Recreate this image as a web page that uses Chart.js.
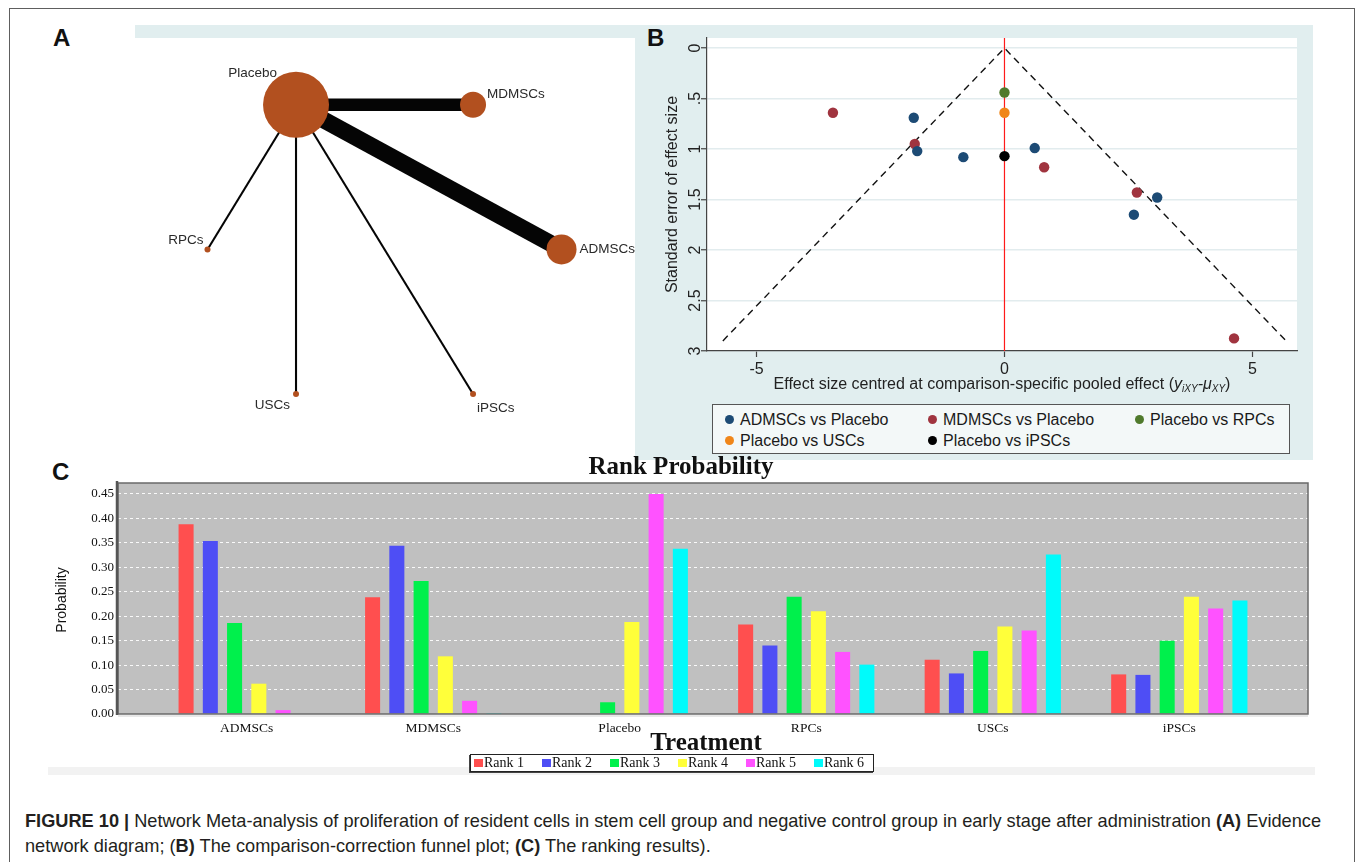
<!DOCTYPE html>
<html>
<head>
<meta charset="utf-8">
<title>Figure 10 – network meta-analysis</title>
<script src="https://cdn.jsdelivr.net/npm/chart.js@4.4.1/dist/chart.umd.min.js"></script>
<style>
  html, body { margin: 0; padding: 0; background: #fff; }
  body { width: 1357px; height: 862px; position: relative; overflow: hidden;
         font-family: "Liberation Sans", Arial, sans-serif; color: #231f20; }
  .abs { position: absolute; }
  #frame { left: 9px; top: 8px; width: 1344px; height: 900px; border: 1px solid #5e5e5e; }
  .letter { font-weight: bold; font-size: 24px; line-height: 24px; color: #111; }
  #bandTop { left: 135px; top: 25px; width: 1178px; height: 13px; background: #e1eeef; }
  #bgB { left: 635px; top: 25px; width: 678px; height: 435px; background: #e1eeef; }
  #bgA { left: 136px; top: 38px; width: 499px; height: 417px; background: #fff; }
  #legB { left: 712px; top: 404px; width: 578px; height: 50px; border: 1px solid #555;
          background: #f3f8f8; box-sizing: border-box; }
  .legItem { position: absolute; font-size: 16px; line-height: 18px; color: #1a1a1a; white-space: nowrap; }
  .legDot { display: inline-block; width: 9px; height: 9px; border-radius: 50%; margin-right: 6px;
            vertical-align: 1px; }
  #bandC { left: 48px; top: 767px; width: 1267px; height: 8px; background: #f2f2f2; }
  #legC { left: 470px; top: 754px; height: 16px; border: 1px solid #222; box-shadow: -1px 1px 0 #444;
          background: #fff; display: flex; font-family: "Liberation Serif", "Times New Roman", serif;
          font-size: 14px; line-height: 16px; color: #111; padding-right: 4px; }
  .legCItem { width: 68px; white-space: nowrap; padding-left: 3px; box-sizing: border-box; }
  .legCItem:last-child { width: 58px; }
  .legSq { display: inline-block; width: 9px; height: 8px; margin-right: 1px; vertical-align: 0px; }
  #caption { left: 25px; top: 809px; font-size: 18.2px; line-height: 25px; color: #231f20; white-space: nowrap; }
  canvas { position: absolute; }
</style>
</head>
<body>
<div id="frame" class="abs"></div>
<div id="bandTop" class="abs"></div>
<div id="bgB" class="abs"></div>
<div id="bgA" class="abs"></div>
<div id="bandC" class="abs"></div>

<div class="abs letter" style="left:53px;top:26px;">A</div>
<div class="abs letter" style="left:647px;top:26px;">B</div>
<div class="abs letter" style="left:52px;top:460px;">C</div>

<canvas id="netA" width="499" height="414" style="left:136px;top:38px;"></canvas>
<canvas id="funnelB" width="678" height="435" style="left:635px;top:25px;"></canvas>
<canvas id="rankC" width="1280" height="330" style="left:40px;top:450px;"></canvas>

<div id="legB" class="abs"></div>
<div id="legC" class="abs"></div>

<div id="caption" class="abs"><b>FIGURE 10 |</b> Network Meta-analysis of proliferation of resident cells in stem cell group and negative control group in early stage after administration <b>(A)</b> Evidence<br>network diagram; (<b>B)</b> The comparison-correction funnel plot; <b>(C)</b> The ranking results).</div>

<script>
// ---------- (A) evidence network ----------
const nodeNames  = ['ADMSCs', 'MDMSCs', 'Placebo', 'RPCs', 'USCs', 'iPSCs'];
const nodeWeight = [15, 13, 33, 3, 3, 3];
const edgeFrom    = ['Placebo', 'Placebo', 'Placebo', 'Placebo', 'Placebo'];
const edgeTo      = ['ADMSCs', 'MDMSCs', 'RPCs', 'USCs', 'iPSCs'];
const edgeStudies = [8, 6, 1, 1, 1];

// ---------- (B) comparison-adjusted funnel plot ----------
const seriesNames = ['ADMSCs vs Placebo', 'MDMSCs vs Placebo', 'Placebo vs RPCs', 'Placebo vs USCs', 'Placebo vs iPSCs'];
const admscEffect = [-1.83, -1.76, -0.83, 0.61, 3.08, 2.61];
const admscSE     = [0.69, 1.02, 1.08, 0.99, 1.48, 1.65];
const mdmscEffect = [-3.46, -1.81, 0.80, 2.67, 4.63];
const mdmscSE     = [0.64, 0.95, 1.18, 1.43, 2.875];
const rpcEffect   = [0];
const rpcSE       = [0.44];
const uscEffect   = [0];
const uscSE       = [0.64];
const ipscEffect  = [0];
const ipscSE      = [1.07];
const funnelX     = [-5.68, 0, 5.68];
const funnelSE    = [2.9, 0, 2.9];
const xTicksB      = [-5, 0, 5];
const yTicksB      = [0, 0.5, 1, 1.5, 2, 2.5, 3];
const yTickLabelsB = ['0', '.5', '1', '1.5', '2', '2.5', '3'];

// ---------- (C) rank probabilities ----------
const treatments = ['ADMSCs', 'MDMSCs', 'Placebo', 'RPCs', 'USCs', 'iPSCs'];
const rankNames  = ['Rank 1', 'Rank 2', 'Rank 3', 'Rank 4', 'Rank 5', 'Rank 6'];
const rank1 = [0.388, 0.239, 0.000, 0.183, 0.111, 0.081];
const rank2 = [0.354, 0.344, 0.001, 0.140, 0.083, 0.080];
const rank3 = [0.186, 0.272, 0.024, 0.240, 0.129, 0.150];
const rank4 = [0.062, 0.118, 0.188, 0.210, 0.179, 0.240];
const rank5 = [0.008, 0.027, 0.450, 0.127, 0.171, 0.216];
const rank6 = [0.001, 0.002, 0.338, 0.101, 0.326, 0.232];
const yTicksC = [0, 0.05, 0.10, 0.15, 0.20, 0.25, 0.30, 0.35, 0.40, 0.45];

const SANS  = '"Liberation Sans", Arial, sans-serif';
const SERIF = '"Liberation Serif", "Times New Roman", serif';
const base = { animation: false, responsive: false, devicePixelRatio: 1, events: [] };

// ===== Panel A =====
(function () {
  // nodes laid out evenly around a circle, starting at 3 o'clock
  const pos = nodeNames.map((n, i) => {
    const a = i * Math.PI / 3;
    return { x: Math.cos(a), y: Math.sin(a) };
  });
  const idx = n => nodeNames.indexOf(n);
  const edgeSets = edgeTo.map((t, k) => ({
    type: 'line',
    data: [pos[idx(edgeFrom[k])], pos[idx(t)]],
    borderColor: '#050505',
    borderWidth: edgeStudies[k] * 2.1,
    borderCapStyle: 'butt',
    pointRadius: 0,
    tension: 0,
    clip: false,
    order: 2
  }));
  const nodeSet = {
    type: 'bubble',
    data: pos.map((p, i) => ({ x: p.x, y: p.y, r: nodeWeight[i] })),
    backgroundColor: '#b2501f',
    borderWidth: 0,
    clip: false,
    order: 1
  };
  const labelPlace = {
    ADMSCs:  { align: 'left',  dx: 18,  dy: 0 },
    MDMSCs:  { align: 'left',  dx: 14,  dy: -11 },
    Placebo: { align: 'right', dx: -19, dy: -32 },
    RPCs:    { align: 'right', dx: -4,  dy: -9 },
    USCs:    { align: 'right', dx: -6,  dy: 11 },
    iPSCs:   { align: 'left',  dx: 4,   dy: 14 }
  };
  const nodeLabels = {
    id: 'nodeLabels',
    afterDatasetsDraw(chart) {
      const { ctx, scales: { x, y } } = chart;
      ctx.save();
      ctx.font = '13.5px ' + SANS;
      ctx.fillStyle = '#2a2a2a';
      ctx.textBaseline = 'middle';
      nodeNames.forEach((n, i) => {
        const p = labelPlace[n];
        ctx.textAlign = p.align;
        ctx.fillText(n, x.getPixelForValue(pos[i].x) + p.dx, y.getPixelForValue(pos[i].y) + p.dy);
      });
      ctx.restore();
    }
  };
  new Chart(document.getElementById('netA'), {
    type: 'bubble',
    data: { datasets: [nodeSet, ...edgeSets] },
    options: {
      ...base,
      layout: { padding: 0, autoPadding: false },
      plugins: { legend: { display: false }, tooltip: { enabled: false } },
      scales: {
        x: { type: 'linear', display: false, min: -1.404, max: 1.415 },
        y: { type: 'linear', display: false, min: -1.213, max: 1.266 }
      }
    },
    plugins: [nodeLabels]
  });
})();

// ===== Panel B =====
(function () {
  const seriesColors = ['#1d4b75', '#a0343f', '#4f7a2c', '#f0861a', '#000000'];
  const effects = [admscEffect, mdmscEffect, rpcEffect, uscEffect, ipscEffect];
  const ses     = [admscSE, mdmscSE, rpcSE, uscSE, ipscSE];
  const pointSets = seriesNames.map((name, k) => ({
    type: 'scatter',
    label: name,
    data: effects[k].map((e, i) => ({ x: e, y: ses[k][i] })),
    backgroundColor: seriesColors[k],
    borderWidth: 0,
    pointRadius: 5.2,
    order: 0
  }));
  const funnelSet = {
    type: 'line',
    data: funnelX.map((v, i) => ({ x: v, y: funnelSE[i] })),
    borderColor: '#111',
    borderWidth: 1.4,
    borderDash: [7, 5],
    pointRadius: 0,
    tension: 0,
    order: 5
  };
  const zeroLine = {
    type: 'line',
    data: [{ x: 0, y: -0.1 }, { x: 0, y: 3 }],
    borderColor: '#ff1a1a',
    borderWidth: 1.2,
    pointRadius: 0,
    order: 4
  };

  function drawRich(ctx, segs, cx, baseline) {
    let total = 0;
    segs.forEach(s => { ctx.font = s.font; s.w = ctx.measureText(s.t).width; total += s.w; });
    let xx = cx - total / 2;
    ctx.textAlign = 'left';
    ctx.textBaseline = 'alphabetic';
    segs.forEach(s => { ctx.font = s.font; ctx.fillText(s.t, xx, baseline + (s.dy || 0)); xx += s.w; });
  }

  const funnelDecor = {
    id: 'funnelDecor',
    beforeDraw(chart) {
      const { ctx, chartArea: a } = chart;
      ctx.save();
      ctx.fillStyle = '#ffffff';
      ctx.fillRect(a.left, a.top, a.right - a.left, a.bottom - a.top);
      ctx.restore();
    },
    afterDraw(chart) {
      const { ctx, chartArea: a, scales: { y } } = chart;
      ctx.save();
      ctx.fillStyle = '#222';
      ctx.font = '16px ' + SANS;
      ctx.textAlign = 'center';
      ctx.textBaseline = 'middle';
      yTicksB.forEach((v, i) => {
        ctx.save();
        ctx.translate(a.left - 11, y.getPixelForValue(v));
        ctx.rotate(-Math.PI / 2);
        ctx.fillText(yTickLabelsB[i], 0, 0);
        ctx.restore();
      });
      ctx.save();
      ctx.translate(38, (a.top + a.bottom) / 2);
      ctx.rotate(-Math.PI / 2);
      ctx.fillText('Standard error of effect size', 0, 0);
      ctx.restore();
      drawRich(ctx, [
        { t: 'Effect size centred at comparison-specific pooled effect (', font: '16px ' + SANS },
        { t: 'y', font: 'italic 16px ' + SANS },
        { t: 'iXY', font: 'italic 10px ' + SANS, dy: 3 },
        { t: '-\u03BC', font: 'italic 16px ' + SANS },
        { t: 'XY', font: 'italic 10px ' + SANS, dy: 3 },
        { t: ')', font: '16px ' + SANS }
      ], (a.left + a.right) / 2, 364);
      ctx.restore();
    }
  };

  new Chart(document.getElementById('funnelB'), {
    type: 'scatter',
    data: { datasets: [...pointSets, zeroLine, funnelSet] },
    options: {
      ...base,
      layout: { padding: { left: 0, top: 13, right: 16, bottom: 0 }, autoPadding: false },
      plugins: { legend: { display: false }, tooltip: { enabled: false } },
      scales: {
        x: {
          type: 'linear', min: -6, max: 5.9,
          afterBuildTicks: s => { s.ticks = xTicksB.map(v => ({ value: v })); },
          afterFit: s => { s.height = 109; },
          grid: { drawOnChartArea: false, drawTicks: true, tickLength: 6, tickColor: '#444', tickWidth: 1.2 },
          border: { color: '#444', width: 1.2 },
          ticks: { font: { size: 16, family: SANS }, color: '#222', padding: 3, maxRotation: 0,
                   callback: v => String(v) }
        },
        y: {
          type: 'linear', reverse: true, min: -0.1, max: 3,
          afterBuildTicks: s => { s.ticks = yTicksB.map(v => ({ value: v })); },
          afterFit: s => { s.width = 72; },
          grid: { color: '#e2ecee', lineWidth: 1.5, drawTicks: true, tickLength: 6, tickColor: '#444', tickWidth: 1.2 },
          border: { color: '#444', width: 1.2 },
          ticks: { display: false }
        }
      }
    },
    plugins: [funnelDecor]
  });

  // legend, three columns by two rows
  const leg = document.getElementById('legB');
  const colX = [12, 215, 422];
  const rowY = [6, 27];
  seriesNames.forEach((name, k) => {
    const d = document.createElement('div');
    d.className = 'legItem';
    d.style.left = colX[k % 3] + 'px';
    d.style.top = rowY[Math.floor(k / 3)] + 'px';
    d.innerHTML = '<span class="legDot" style="background:' + seriesColors[k] + '"></span>' + name;
    leg.appendChild(d);
  });
})();

// ===== Panel C =====
(function () {
  const rankColors = ['#ff4f4f', '#4e4ef5', '#00f04c', '#ffff3a', '#ff52ff', '#00fbfb'];
  const ranks = [rank1, rank2, rank3, rank4, rank5, rank6];
  const sets = ranks.map((arr, k) => ({
    label: rankNames[k],
    data: arr.map((v, i) => ({ x: i, y: v })),
    backgroundColor: rankColors[k],
    borderWidth: 0,
    categoryPercentage: 0.78,
    barPercentage: 0.62
  }));
  const rankDecor = {
    id: 'rankDecor',
    beforeDraw(chart) {
      const { ctx, chartArea: a } = chart;
      ctx.save();
      ctx.fillStyle = '#c0c0c0';
      ctx.fillRect(a.left, a.top, a.right - a.left, a.bottom - a.top);
      ctx.restore();
    },
    afterDraw(chart) {
      const { ctx, chartArea: a } = chart;
      ctx.save();
      ctx.strokeStyle = '#6a6a6a';
      ctx.lineWidth = 1.5;
      ctx.strokeRect(a.left, a.top, a.right - a.left, a.bottom - a.top);
      ctx.strokeStyle = '#555';
      ctx.lineWidth = 2.5;
      ctx.beginPath();
      ctx.moveTo(a.left - 1, a.top - 2);
      ctx.lineTo(a.left - 1, a.bottom + 1);
      ctx.stroke();
      ctx.strokeStyle = '#e8e8e8';
      ctx.lineWidth = 2;
      ctx.beginPath();
      ctx.moveTo(a.left, a.bottom + 2);
      ctx.lineTo(a.right, a.bottom + 2);
      ctx.stroke();

      ctx.fillStyle = '#111';
      ctx.textAlign = 'center';
      ctx.textBaseline = 'middle';
      ctx.font = 'bold 25px ' + SERIF;
      ctx.fillText('Rank Probability', 641, 18);
      ctx.fillText('Treatment', 666, 294);
      ctx.font = '14px "Liberation Sans Narrow", ' + SANS;
      ctx.save();
      ctx.translate(22, 150);
      ctx.rotate(-Math.PI / 2);
      ctx.fillText('Probability', 0, 0);
      ctx.restore();
      ctx.restore();
    }
  };
  new Chart(document.getElementById('rankC'), {
    type: 'bar',
    data: { datasets: sets },
    options: {
      ...base,
      layout: { padding: { left: 0, top: 33, right: 12, bottom: 0 }, autoPadding: false },
      plugins: { legend: { display: false }, tooltip: { enabled: false } },
      scales: {
        x: {
          type: 'linear', min: -0.69, max: 5.69, offset: false,
          afterBuildTicks: s => { s.ticks = treatments.map((t, i) => ({ value: i })); },
          afterFit: s => { s.height = 66; },
          grid: { display: false, drawTicks: false },
          border: { display: false },
          ticks: { font: { size: 13.5, family: SERIF }, color: '#111', padding: 6, maxRotation: 0,
                   autoSkip: false, callback: v => treatments[Math.round(v)] }
        },
        y: {
          type: 'linear', min: 0, max: 0.4725,
          afterBuildTicks: s => { s.ticks = yTicksC.map(v => ({ value: v })); },
          afterFit: s => { s.width = 78; },
          grid: { color: 'rgba(255,255,255,0.9)', lineWidth: 1, drawTicks: false },
          border: { display: false, dash: [3, 3] },
          ticks: { font: { size: 13, family: SERIF }, color: '#111', padding: 4,
                   callback: v => v.toFixed(2) }
        }
      }
    },
    plugins: [rankDecor]
  });

  const leg = document.getElementById('legC');
  rankNames.forEach((n, k) => {
    const d = document.createElement('div');
    d.className = 'legCItem';
    d.innerHTML = '<span class="legSq" style="background:' + rankColors[k] + '"></span>' + n;
    leg.appendChild(d);
  });
})();
</script>
</body>
</html>
